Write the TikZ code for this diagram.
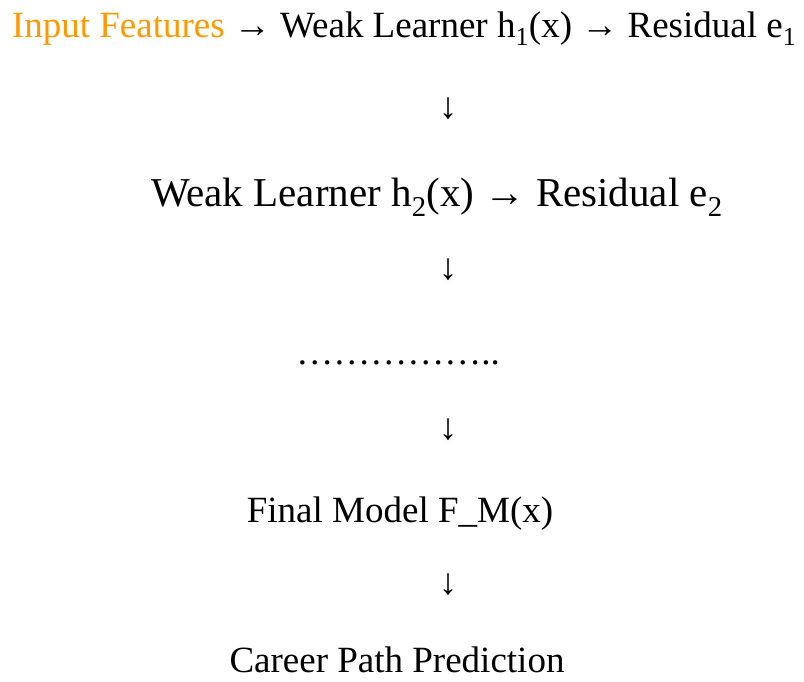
\documentclass[tikz,border=0pt]{standalone}
\usepackage{fontspec}
\setmainfont{Liberation Serif}
\definecolor{featorange}{RGB}{255,153,0}
\tikzset{
  txt/.style={inner sep=0pt, outer sep=0pt, anchor=base, font=\fontsize{37}{44}\selectfont},
  bigtxt/.style={txt, font=\fontsize{41}{48}\selectfont},
  arr/.style={inner sep=0pt, outer sep=0pt, anchor=base, font=\fontsize{37}{44}\selectfont},
}
\begin{document}
\begin{tikzpicture}[x=1pt,y=1pt]
\useasboundingbox (0,0) rectangle (804,-681);
\node[txt, anchor=base west] (row1) at (12,-37) {\textcolor{featorange}{Input Features} → Weak Learner h\textsubscript{1}(x) → Residual e\textsubscript{1}};
\node[arr] (d1) at (448,-118) {↓};
\node[bigtxt] (row2) at (437,-206) {Weak Learner h\textsubscript{2}(x) → Residual e\textsubscript{2}};
\node[arr] (d2) at (448,-279) {↓};
\node[txt] (dots) at (398,-364) {……………..};
\node[arr] (d3) at (448,-439) {↓};
\node[txt] (final) at (400,-522) {Final Model F\_M(x)};
\node[arr] (d4) at (448,-594) {↓};
\node[txt] (career) at (397,-672) {Career Path Prediction};
\end{tikzpicture}
\end{document}
